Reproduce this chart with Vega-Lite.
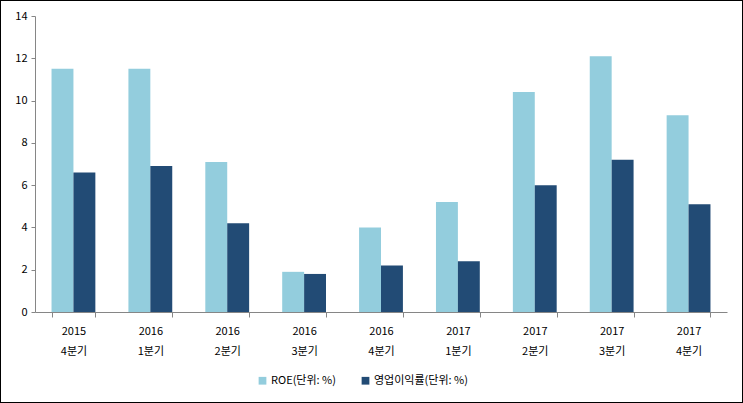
{
  "$schema": "https://vega.github.io/schema/vega-lite/v6.json",
  "width": 743,
  "height": 403,
  "autosize": "none",
  "padding": 0,
  "background": "white",
  "config": {
    "view": {"stroke": "black", "strokeWidth": 2},
    "font": "Noto Sans CJK KR",
    "axis": {"grid": false, "domainColor": "#868686", "tickColor": "#868686", "labelColor": "black", "labelFontSize": 11, "labelFont": "Noto Sans CJK KR", "title": null}
  },
  "data": {
    "values": [
      {"q": "2015 4분기", "s": "ROE(단위: %)", "v": 11.5},
      {"q": "2015 4분기", "s": "영업이익률(단위: %)", "v": 6.6},
      {"q": "2016 1분기", "s": "ROE(단위: %)", "v": 11.5},
      {"q": "2016 1분기", "s": "영업이익률(단위: %)", "v": 6.9},
      {"q": "2016 2분기", "s": "ROE(단위: %)", "v": 7.1},
      {"q": "2016 2분기", "s": "영업이익률(단위: %)", "v": 4.2},
      {"q": "2016 3분기", "s": "ROE(단위: %)", "v": 1.9},
      {"q": "2016 3분기", "s": "영업이익률(단위: %)", "v": 1.8},
      {"q": "2016 4분기", "s": "ROE(단위: %)", "v": 4.0},
      {"q": "2016 4분기", "s": "영업이익률(단위: %)", "v": 2.2},
      {"q": "2017 1분기", "s": "ROE(단위: %)", "v": 5.2},
      {"q": "2017 1분기", "s": "영업이익률(단위: %)", "v": 2.4},
      {"q": "2017 2분기", "s": "ROE(단위: %)", "v": 10.4},
      {"q": "2017 2분기", "s": "영업이익률(단위: %)", "v": 6.0},
      {"q": "2017 3분기", "s": "ROE(단위: %)", "v": 12.1},
      {"q": "2017 3분기", "s": "영업이익률(단위: %)", "v": 7.2},
      {"q": "2017 4분기", "s": "ROE(단위: %)", "v": 9.3},
      {"q": "2017 4분기", "s": "영업이익률(단위: %)", "v": 5.1}
    ]
  },
  "mark": {"type": "bar"},
  "encoding": {
    "x": {
      "field": "q", "type": "nominal", "sort": null,
      "scale": {"range": [35, 727], "paddingInner": 0.43, "paddingOuter": 0.215},
      "axis": {"labelAngle": 0, "labelExpr": "split(datum.label, ' ')", "labelLineHeight": 20, "labelPadding": 8, "tickBand": "extent", "tickSize": 5, "offset": -91}
    },
    "xOffset": {"field": "s", "type": "nominal", "sort": null, "scale": {"paddingInner": 0, "paddingOuter": 0}},
    "y": {
      "field": "v", "type": "quantitative",
      "scale": {"domain": [0, 14], "range": [312, 16], "nice": false},
      "axis": {"values": [0, 2, 4, 6, 8, 10, 12, 14], "tickSize": 4, "labelPadding": 4, "offset": -35}
    },
    "color": {
      "field": "s", "type": "nominal", "sort": null,
      "scale": {"range": ["#93CDDD", "#224B75"]},
      "legend": {"title": null, "orient": "none", "direction": "horizontal", "legendX": 257, "legendY": 375, "symbolType": "square", "symbolSize": 60, "symbolStrokeWidth": 0, "labelFontSize": 11, "labelColor": "black", "columnPadding": 24, "labelOffset": 3}
    }
  }
}
